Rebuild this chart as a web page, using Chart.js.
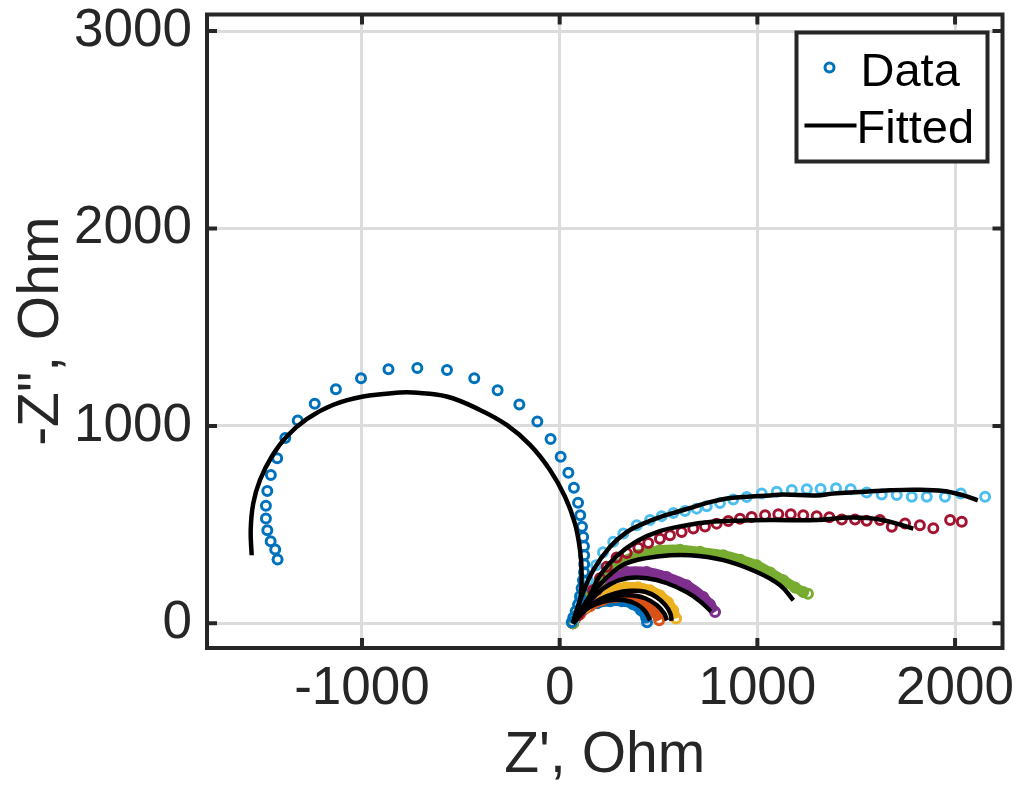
<!DOCTYPE html>
<html>
<head>
<meta charset="utf-8">
<title>Nyquist plot</title>
<script src="https://cdn.jsdelivr.net/npm/chart.js@4.4.1/dist/chart.umd.min.js"></script>
<style>
  html, body { margin: 0; padding: 0; background: #fff; }
  #wrap { width: 1021px; height: 798px; }
</style>
</head>
<body>
<div id="wrap"><canvas id="nyquist" width="1021" height="798"></canvas></div>
<script>
// ---- axes ----
const xRange = [-1784, 2240];
const yRange = [-125, 3084];
const xTickValues = [-1000, 0, 1000, 2000];
const yTickValues = [0, 1000, 2000, 3000];

// ---- measured spectra (Z' , -Z'') and fitted curves, Ohm ----
// 1: smallest arc
const s1Re = [67, 93, 133, 189, 255, 315, 371, 411, 437, 442];
const s1Im = [0, 46, 81, 102, 112, 112, 96, 66, 30, 5];
const f1Re = [67, 118, 179, 255, 330, 391, 432, 457];
const f1Im = [0, 61, 96, 117, 117, 96, 61, 15];

// 2
const s2Re = [67, 103, 153, 214, 280, 346, 407, 457, 487, 503];
const s2Im = [0, 46, 86, 117, 132, 132, 117, 86, 51, 15];
const f2Re = [67, 128, 204, 280, 356, 432, 492, 528, 543];
const f2Im = [0, 66, 112, 137, 142, 127, 91, 51, 15];

// 3
const s3Re = [67, 93, 128, 168, 219, 275, 335, 396, 457, 507, 548, 574, 589];
const s3Im = [0, 41, 81, 117, 152, 173, 183, 183, 168, 142, 107, 66, 25];
const f3Re = [67, 128, 204, 280, 356, 432, 492, 535, 560, 566];
const f3Im = [0, 66, 122, 152, 165, 160, 132, 92, 50, 12];

// 4
const s4Re = [67, 103, 137, 187, 255, 339, 440, 541, 642, 726, 760, 786];
const s4Im = [0, 56, 100, 168, 227, 260, 260, 235, 193, 133, 96, 57];
const f4Re = [67, 118, 179, 255, 340, 442, 543, 644, 710, 765];
const f4Im = [0, 71, 142, 198, 228, 228, 203, 157, 112, 61];

// 5
const s5Re = [67, 137, 204, 288, 390, 507, 609, 710, 828, 914, 997, 1064, 1131, 1190, 1232, 1256];
const s5Im = [0, 127, 218, 294, 345, 370, 373, 362, 345, 322, 294, 258, 218, 182, 159, 150];
const f5Re = [67, 153, 234, 339, 507, 659, 828, 997, 1115, 1182];
const f5Im = [0, 132, 228, 305, 340, 345, 320, 260, 193, 117];

// 6
const s6Re = [72, 103, 143, 184, 219, 271, 322, 390, 457, 516, 575, 634, 693, 744, 811, 878, 946,
  1022, 1098, 1174, 1250, 1320, 1398, 1472, 1553, 1629, 1705, 1781, 1857, 1949, 2029, 2152];
const s6Im = [25, 117, 218, 294, 360, 413, 455, 497, 523, 543, 559, 569, 581, 593, 609, 627, 640,
  658, 667, 675, 679, 680, 684, 679, 663, 653, 650, 641, 641, 641, 658, 641];
const f6Re = [67, 103, 170, 254, 339, 423, 507, 592, 676, 760, 845, 929, 1064, 1130, 1300, 1383,
  1519, 1671, 1806, 1941, 2042, 2115];
const f6Im = [0, 117, 269, 387, 462, 505, 538, 564, 589, 614, 632, 640, 648, 652, 648, 657,
  665, 674, 677, 670, 648, 623];

// 7
const s7Re = [93, 128, 168, 204, 238, 288, 339, 398, 448, 507, 558, 617, 676, 735, 794, 853, 912,
  971, 1039, 1106, 1169, 1232, 1300, 1364, 1427, 1494, 1553, 1620, 1680, 1747, 1822, 1890, 1975, 2034];
const s7Im = [41, 91, 168, 228, 286, 333, 356, 383, 407, 429, 446, 462, 480, 491, 505, 518, 530,
  538, 548, 552, 553, 548, 543, 537, 526, 526, 519, 523, 489, 506, 497, 481, 523, 514];
const f7Re = [67, 153, 204, 288, 390, 507, 642, 760, 895, 1064, 1300, 1469, 1620, 1789];
const f7Im = [0, 142, 244, 340, 416, 467, 497, 513, 520, 523, 523, 536, 526, 480];

// 8: the big loop on the negative side
const s8Re = [-1427, -1439, -1462, -1479, -1486, -1486, -1479, -1461, -1429, -1388, -1325, -1239,
  -1132, -1005, -866, -720, -570, -432, -314, -204, -113, -46, 5, 44, 72, 93, 104, 113, 119,
  123, 124, 124, 123, 118, 111, 103, 93, 81, 69, 61];
const s8Im = [323, 374, 416, 472, 531, 595, 670, 751, 836, 939, 1027, 1112,
  1186, 1242, 1287, 1293, 1283, 1242, 1181, 1108, 1022, 934, 844, 763, 687, 611, 548, 489, 437,
  391, 345, 299, 259, 218, 178, 137, 96, 61, 30, 5];
const f8Re = [-1558, -1563, -1550, -1516, -1457, -1381, -1280, -1145, -994, -808, -741, -572,
  -403, -268, -150, -49, 27, 77, 103, 111, 103, 69];
const f8Im = [345, 472, 608, 726, 844, 946, 1034, 1107, 1149, 1169, 1169, 1149,
  1081, 1005, 904, 777, 641, 506, 371, 254, 117, 7];

// MATLAB default colour order
const palette = ['#0072BD', '#D95319', '#EDB120', '#7E2F8E', '#77AC30', '#4DBEEE', '#A2142F', '#0072BD'];

const FONT = '"Liberation Sans", Arial, Helvetica, sans-serif';
const INK = '#262626';

function toPoints(re, im) {
  return re.map((x, i) => ({ x: x, y: im[i] }));
}

const measured = [
  [s1Re, s1Im], [s2Re, s2Im], [s3Re, s3Im], [s4Re, s4Im],
  [s5Re, s5Im], [s6Re, s6Im], [s7Re, s7Im], [s8Re, s8Im]
];
const fitted = [
  [f1Re, f1Im], [f2Re, f2Im], [f3Re, f3Im], [f4Re, f4Im],
  [f5Re, f5Im], [f6Re, f6Im], [f7Re, f7Im], [f8Re, f8Im]
];
// the first five are sampled so densely that the markers merge into a band
const denseCount = 5;

const datasets = [];
fitted.forEach(([re, im], i) => {
  datasets.push({
    label: 'Fitted ' + (i + 1),
    data: toPoints(re, im),
    showLine: true,
    borderColor: '#000',
    borderWidth: 4.5,
    tension: 0.4,
    pointRadius: 0,
    order: 1
  });
});
measured.forEach(([re, im], i) => {
  const dense = i < denseCount;
  datasets.push({
    label: 'Data ' + (i + 1),
    data: toPoints(re, im),
    showLine: dense,
    borderColor: palette[i],
    borderWidth: dense ? 10 : 0,
    tension: 0.4,
    pointStyle: 'circle',
    pointRadius: 4.5,
    pointBorderWidth: 3,
    pointBorderColor: palette[i],
    pointBackgroundColor: 'rgba(255,255,255,0)',
    order: 10 - i
  });
});

// box around the axes with inward ticks on all four sides
const axesBox = {
  id: 'axesBox',
  afterDatasetsDraw(chart) {
    const { ctx, chartArea: a, scales: { x, y } } = chart;
    const len = 10;
    ctx.save();
    ctx.strokeStyle = INK;
    ctx.lineWidth = 4;
    ctx.beginPath();
    xTickValues.forEach(v => {
      const px = x.getPixelForValue(v);
      ctx.moveTo(px, a.bottom); ctx.lineTo(px, a.bottom - len);
      ctx.moveTo(px, a.top); ctx.lineTo(px, a.top + len);
    });
    yTickValues.forEach(v => {
      const py = y.getPixelForValue(v);
      ctx.moveTo(a.left, py); ctx.lineTo(a.left + len, py);
      ctx.moveTo(a.right, py); ctx.lineTo(a.right - len, py);
    });
    ctx.stroke();
    ctx.strokeRect(a.left, a.top, a.right - a.left, a.bottom - a.top);
    ctx.restore();
  }
};

// legend in the upper right corner of the axes
const cornerLegend = {
  id: 'cornerLegend',
  afterDraw(chart) {
    const { ctx, chartArea: a } = chart;
    const right = a.right - 15, top = a.top + 18;
    const w = 191, h = 129;
    const left = right - w;
    ctx.save();
    ctx.fillStyle = '#fff';
    ctx.fillRect(left, top, w, h);
    ctx.strokeStyle = INK;
    ctx.lineWidth = 4;
    ctx.strokeRect(left, top, w, h);

    // Data entry
    ctx.beginPath();
    ctx.arc(left + 33, top + 35, 4.5, 0, Math.PI * 2);
    ctx.strokeStyle = palette[0];
    ctx.lineWidth = 3;
    ctx.stroke();

    // Fitted entry
    ctx.beginPath();
    ctx.moveTo(left + 8, top + 93);
    ctx.lineTo(left + 60, top + 93);
    ctx.strokeStyle = '#000';
    ctx.lineWidth = 4;
    ctx.stroke();

    ctx.fillStyle = '#000';
    ctx.font = '47px ' + FONT;
    ctx.textBaseline = 'alphabetic';
    ctx.textAlign = 'left';
    ctx.fillText('Data', left + 64, top + 53);
    ctx.fillText('Fitted', left + 60, top + 110);
    ctx.restore();
  }
};

new Chart(document.getElementById('nyquist'), {
  type: 'scatter',
  data: { datasets: datasets },
  plugins: [axesBox, cornerLegend],
  options: {
    responsive: false,
    animation: false,
    devicePixelRatio: 1,
    layout: { padding: { top: 14.5, right: 18.5, left: 0, bottom: 0 } },
    plugins: { legend: { display: false }, tooltip: { enabled: false } },
    scales: {
      x: {
        type: 'linear',
        min: xRange[0],
        max: xRange[1],
        afterBuildTicks: s => { s.ticks = xTickValues.map(v => ({ value: v })); },
        afterFit: s => { s.height = 150; s.paddingLeft = 0; s.paddingRight = 0; },
        grid: { color: '#dcdcdc', lineWidth: 3, drawTicks: false },
        border: { display: false },
        ticks: {
          color: INK, padding: 10, autoSkip: false, maxRotation: 0,
          font: { family: FONT, size: 53 },
          callback: v => String(v)
        },
        title: {
          display: true, text: "Z', Ohm", color: INK,
          font: { family: FONT, size: 57, lineHeight: 1 },
          padding: { top: 0, bottom: 13 }
        }
      },
      y: {
        type: 'linear',
        min: yRange[0],
        max: yRange[1],
        afterBuildTicks: s => { s.ticks = yTickValues.map(v => ({ value: v })); },
        afterFit: s => { s.width = 207; s.paddingTop = 0; s.paddingBottom = 0; },
        grid: { color: '#dcdcdc', lineWidth: 3, drawTicks: false },
        border: { display: false },
        ticks: {
          color: INK, padding: 15, autoSkip: false,
          font: { family: FONT, size: 53 },
          callback: v => String(v)
        },
        title: {
          display: true, text: '-Z", Ohm', color: INK,
          font: { family: FONT, size: 57, lineHeight: 1 },
          padding: { top: 14, bottom: 0 }
        }
      }
    }
  }
});
</script>
</body>
</html>
